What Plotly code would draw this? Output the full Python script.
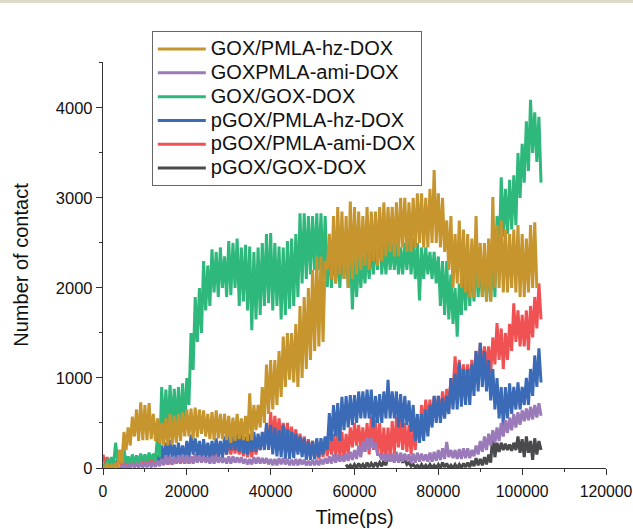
import plotly.graph_objects as go

# ---------------- data ----------------
# Each series is sampled every 1000 ps; for every sample the upper and the
# lower edge of the noisy trace were read off the picture.  The trace is drawn
# through upper (at t) and lower (at t + 500 ps) values alternately.

names = ["GOX/PMLA-hz-DOX", "GOXPMLA-ami-DOX", "GOX/GOX-DOX",
         "pGOX/PMLA-hz-DOX", "pGOX/PMLA-ami-DOX", "pGOX/GOX-DOX"]
colors = ["#C6952E", "#9A7AB9", "#2EB87B", "#3B6BB6", "#F05253", "#4A4A4D"]
start_ps = [0, 4000, 0, 13000, 0, 58000]

gold_up = [30, 40, 30, 50, 200, 400, 450, 570, 650, 730,
           700, 720, 600, 550, 500, 550, 600, 580, 600, 620,
           650, 660, 670, 650, 640, 600, 620, 640, 600, 600,
           580, 560, 600, 550, 580, 830, 700, 700, 900, 1150,
           1200, 1200, 1300, 1460, 1500, 1500, 1600, 1800, 1900, 2000,
           2200, 2350, 2350, 2300, 2600, 2800, 2900, 2850, 2800, 2960,
           2900, 2850, 2800, 2900, 2850, 2850, 2900, 2950, 2900, 2900,
           2950, 3000, 3000, 2950, 3000, 3050, 3050, 3000, 3100, 3310,
           3050, 3000, 2750, 2800, 2600, 2750, 2650, 2600, 2550, 2800,
           2500, 2500, 2550, 3010, 2700, 2750, 2650, 2600, 2650, 2700,
           2600, 2550, 2700, 2730]
gold_lo = [0, 0, 0, 0, 50, 200, 250, 350, 300, 310,
           310, 320, 300, 280, 250, 250, 260, 280, 300, 350,
           350, 330, 340, 380, 350, 320, 310, 330, 320, 310,
           280, 300, 320, 310, 300, 310, 420, 450, 500, 600,
           650, 700, 790, 900, 980, 950, 900, 1000, 1100, 1200,
           1300, 1350, 1400, 2200, 2100, 2050, 2150, 2100, 2000, 2100,
           2150, 2200, 2250, 2200, 2300, 2250, 2300, 2350, 2400, 2350,
           2350, 2450, 2400, 2400, 2450, 2500, 2450, 2450, 2500, 2500,
           2450, 2400, 2200, 2000, 2050, 2000, 1950, 1900, 1900, 2000,
           1900, 1850, 1850, 2000, 2000, 1950, 1950, 2000, 1950, 1900,
           1900, 1950, 2000, 2000]

purple_up = [20, 40, 30, 50, 40, 50,
             50, 60, 50, 80, 100, 140, 130, 120, 140, 150,
             140, 130, 140, 140, 130, 120, 130, 140, 120, 110,
             130, 130, 120, 120, 100, 100, 120, 120, 110, 110,
             100, 100, 110, 110, 100, 90, 100, 100, 90, 80,
             90, 90, 100, 110, 130, 150, 150, 140, 160, 180,
             200, 250, 300, 340, 330, 280, 150, 150, 160, 160,
             180, 170, 160, 150, 160, 170, 160, 150, 170, 180,
             200, 220, 290, 200, 200, 210, 220, 220, 200, 250,
             300, 350, 380, 420, 450, 500, 530, 560, 600, 620,
             640, 660, 680, 700, 720]
purple_lo = [0, 0, 5, 10, 10, 10,
             10, 15, 15, 20, 30, 40, 40, 50, 50, 50,
             50, 50, 60, 60, 60, 50, 50, 60, 60, 50,
             50, 60, 60, 50, 40, 40, 50, 50, 50, 40,
             30, 30, 40, 40, 30, 30, 30, 40, 30, 30,
             30, 30, 40, 50, 50, 60, 70, 70, 80, 90,
             100, 120, 180, 200, 220, 150, 90, 70, 70, 60,
             60, 70, 80, 60, 60, 70, 80, 70, 70, 80,
             90, 100, 120, 110, 100, 100, 110, 110, 130, 150,
             180, 200, 250, 280, 300, 350, 390, 420, 450, 480,
             520, 530, 540, 560, 580]

green_up = [50, 100, 120, 280, 200, 220, 130, 150, 140, 160,
            150, 170, 160, 350, 900, 870, 920, 880, 900, 940,
            1000, 1500, 1900, 2000, 2300, 2250, 2430, 2400, 2450, 2350,
            2520, 2500, 2550, 2450, 2480, 2460, 2400, 2450, 2500, 2600,
            2610, 2500, 2460, 2450, 2520, 2550, 2600, 2830, 2830, 2800,
            2800, 2830, 2830, 2800, 2500, 2500, 2450, 2450, 2500, 2450,
            2400, 2350, 2350, 2450, 2500, 2550, 2830, 2500, 2550, 2500,
            2500, 2450, 2500, 2550, 2550, 2500, 2450, 2450, 2400, 2400,
            2350, 2300, 2300, 2150, 2000, 2050, 2300, 2300, 2350, 2350,
            2300, 2300, 2350, 2400, 2800, 3230, 3100, 3200, 3250, 3500,
            3600, 3850, 4090, 3950, 3900]
green_lo = [0, 20, 30, 80, 60, 50, 40, 60, 50, 70,
            70, 90, 80, 120, 400, 420, 450, 430, 440, 460,
            700, 1090, 1400, 1500, 1750, 1800, 1950, 1900, 2000, 1900,
            1920, 2000, 1800, 1850, 1750, 1530, 1650, 1700, 1800, 1830,
            1750, 1800, 1650, 1700, 1770, 1800, 1900, 2050, 2100, 2150,
            2200, 2200, 2100, 2010, 2000, 2050, 2000, 2100, 2000, 1760,
            1900, 2000, 2050, 2100, 2150, 2200, 2150, 2150, 2200, 2200,
            2150, 2150, 2200, 2150, 2100, 1860, 2100, 2150, 2100, 2050,
            1800, 1700, 1650, 1600, 1460, 1700, 1750, 1800, 1850, 1900,
            1900, 1850, 1850, 1900, 2300, 2570, 2600, 2650, 2700, 3000,
            3170, 3300, 3500, 3400, 3170]

blue_up = [150, 250, 280, 310, 260, 280, 250,
           300, 370, 330, 300, 320, 280, 300, 330, 300, 350,
           400, 420, 400, 380, 350, 380, 400, 380, 400, 500,
           480, 450, 420, 480, 430, 400, 380, 350, 330, 300,
           300, 330, 330, 350, 610, 700, 720, 790, 800, 810,
           810, 850, 850, 870, 870, 800, 820, 850, 980, 850,
           850, 820, 800, 750, 700, 600, 600, 650, 700, 800,
           800, 780, 800, 1000, 1050, 1170, 1100, 1100, 1150, 1300,
           1390, 1300, 1200, 1100, 1000, 900, 900, 940, 900, 950,
           900, 1000, 1100, 1250, 1330]
blue_lo = [50, 90, 100, 120, 90, 100, 90,
           100, 150, 120, 100, 110, 100, 130, 120, 110, 150,
           200, 200, 180, 160, 150, 180, 180, 200, 200, 200,
           150, 130, 120, 100, 100, 110, 150, 120, 90, 90,
           100, 120, 150, 200, 300, 350, 300, 420, 450, 480,
           500, 550, 550, 550, 450, 500, 500, 550, 550, 550,
           450, 450, 480, 400, 300, 280, 300, 350, 450, 500,
           500, 550, 600, 650, 650, 680, 700, 700, 800, 850,
           900, 850, 750, 650, 550, 460, 550, 600, 650, 650,
           700, 700, 800, 900, 950]

red_up = [150, 120, 100, 80, 100, 80, 90, 100, 100, 110,
          120, 110, 100, 110, 110, 100, 100, 100, 110, 120,
          120, 130, 150, 200, 280, 260, 250, 260, 280, 280,
          310, 300, 300, 280, 260, 280, 300, 320, 350, 450,
          620, 580, 550, 500, 500, 460, 430, 380, 350, 320,
          300, 280, 280, 330, 350, 380, 420, 400, 380, 450,
          500, 480, 450, 500, 570, 540, 500, 450, 450, 520,
          570, 550, 500, 480, 450, 550, 700, 760, 760, 800,
          800, 850, 880, 1000, 1240, 1200, 1150, 1150, 1200, 1300,
          1390, 1350, 1350, 1450, 1610, 1550, 1500, 1600, 1830, 1750,
          1700, 1750, 1800, 1900, 2050]
red_lo = [50, 40, 30, 20, 30, 20, 30, 40, 40, 50,
          50, 50, 40, 40, 50, 40, 40, 50, 50, 50,
          50, 60, 70, 80, 120, 130, 120, 120, 140, 150,
          150, 160, 150, 130, 120, 120, 150, 200, 230, 250,
          300, 320, 300, 280, 280, 250, 200, 180, 150, 130,
          100, 100, 120, 130, 150, 120, 100, 100, 150, 230,
          250, 230, 180, 150, 200, 150, 90, 100, 120, 150,
          230, 200, 180, 150, 200, 300, 450, 500, 520, 550,
          580, 600, 650, 850, 880, 880, 880, 900, 950, 1000,
          1090, 1090, 1050, 1150, 1200, 1100, 1200, 1300, 1400, 1350,
          1350, 1310, 1450, 1550, 1650]

gray_up = [40, 30,
           40, 50, 40, 60, 50, 60, 60, 80, 140, 130,
           140, 120, 100, 60, 40, 30, 40, 30, 40, 30,
           40, 60, 50, 30, 40, 40, 50, 60, 80, 110,
           100, 120, 150, 390, 280, 280, 270, 260, 280, 350,
           320, 350, 300, 330, 300]
gray_lo = [0, 0,
           0, 10, 0, 10, 10, 20, 20, 30, 80, 70,
           80, 60, 40, 20, 10, 0, 0, 0, 0, 0,
           0, 10, 0, 0, 0, 0, 10, 10, 20, 30,
           30, 40, 60, 120, 180, 200, 200, 190, 200, 170,
           120, 170, 90, 150, 200]

uppers = [gold_up, purple_up, green_up, blue_up, red_up, gray_up]
lowers = [gold_lo, purple_lo, green_lo, blue_lo, red_lo, gray_lo]

# drawing order (bottom -> top); legend order kept via legendrank
draw_order = [5, 4, 3, 2, 0, 1]

fig = go.Figure()
for k in draw_order:
    xs, ys = [], []
    for i, (u, l) in enumerate(zip(uppers[k], lowers[k])):
        t = start_ps[k] + i * 1000
        xs += [t, t + 500]
        ys += [u, l]
    fig.add_trace(go.Scatter(
        x=xs, y=ys, mode="lines",
        name='<span style="font-size:20px">' + names[k] + '</span>',
        line=dict(color=colors[k], width=3), legendrank=k + 1,
    ))

font_family = "Arial, Liberation Sans, sans-serif"
axis_common = dict(
    showline=True, linecolor="#333333", linewidth=1.3,
    ticks="outside", ticklen=6, tickwidth=1.2, tickcolor="#333333",
    showgrid=False, zeroline=False, mirror=False, automargin=False,
    tickformat="d", ticklabeloverflow="allow",
)

fig.update_layout(
    width=633, height=529,
    margin=dict(l=103, r=27, t=62, b=61),
    paper_bgcolor="white", plot_bgcolor="white",
    font=dict(family=font_family, color="#111111"),
    showlegend=True,
    legend=dict(
        x=0.097, y=1.076, xanchor="left", yanchor="top",
        bgcolor="white", bordercolor="#666666", borderwidth=1,
        font=dict(family=font_family, size=16, color="#111111"),
        itemwidth=48, tracegroupgap=0,
    ),
    xaxis=dict(
        range=[0, 120000], dtick=20000, tick0=0, ticklabelstandoff=3,
        minor=dict(dtick=10000, ticklen=3, tickwidth=1.2, tickcolor="#333333", ticks="outside"),
        tickfont=dict(family=font_family, size=15.8, color="#111111"),
        title=dict(text="Time(ps)", font=dict(family=font_family, size=20, color="#111111"), standoff=10),
        **axis_common,
    ),
    yaxis=dict(
        range=[0, 4510], dtick=1000, tick0=0,
        minor=dict(dtick=500, ticklen=3, tickwidth=1.2, tickcolor="#333333", ticks="outside"),
        tickfont=dict(family=font_family, size=16.5, color="#111111"),
        title=dict(text="Number of contact", font=dict(family=font_family, size=20, color="#111111"), standoff=21),
        **axis_common,
    ),
    shapes=[dict(type="rect", xref="paper", yref="paper", x0=-0.25, x1=1.1,
                 y0=1.1453, y1=1.16, fillcolor="#DEDBC8", line=dict(width=0), layer="above")],
)

fig.write_html("out.html")
